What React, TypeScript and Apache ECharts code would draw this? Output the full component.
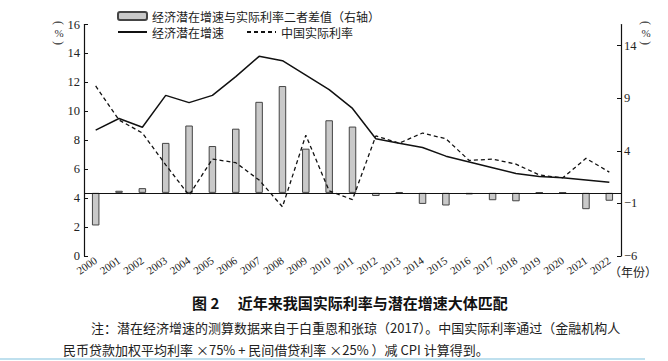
import React, { useEffect, useRef } from 'react';
import * as echarts from 'echarts';

const years = ['2000', '2001', '2002', '2003', '2004', '2005', '2006', '2007', '2008', '2009', '2010', '2011', '2012', '2013', '2014', '2015', '2016', '2017', '2018', '2019', '2020', '2021', '2022'];
const potentialGrowth = [8.7, 9.5, 8.9, 11.1, 10.6, 11.1, 12.4, 13.8, 13.5, 12.5, 11.5, 10.2, 8.1, 7.8, 7.5, 6.9, 6.5, 6.1, 5.7, 5.5, 5.4, 5.25, 5.1];
const realRate = [11.75, 9.4, 8.5, 6.3, 4.2, 6.7, 6.45, 5.25, 3.4, 8.35, 4.5, 3.9, 8.3, 7.8, 8.5, 8.1, 6.6, 6.7, 6.35, 5.6, 5.4, 6.75, 5.8];
const gapValues = [-3.1, 0.2, 0.45, 4.75, 6.4, 4.45, 6.1, 8.65, 10.15, 4.2, 6.9, 6.3, -0.3, 0.07, -1.05, -1.2, -0.15, -0.7, -0.8, 0.05, 0.05, -1.55, -0.75];
const leftTicks = [0, 2, 4, 6, 8, 10, 12, 14, 16];
const rightTicks = [-6, -1, 4, 9, 14];

const nameGap = '经济潜在增速与实际利率二者差值（右轴）';
const nameGrowth = '经济潜在增速';
const nameRate = '中国实际利率';

const serif = 'Liberation Serif';
const cjk = 'Noto Sans CJK SC';

function unitMark(cx: number) {
  return [
    { type: 'text', x: cx, y: 23, rotation: -Math.PI / 2, style: { text: '(', fontFamily: serif, fontSize: 12, fill: '#333', align: 'center', verticalAlign: 'middle' } },
    { type: 'text', x: cx, y: 33, style: { text: '%', fontFamily: serif, fontSize: 11, fill: '#333', align: 'center', verticalAlign: 'middle' } },
    { type: 'text', x: cx, y: 43, rotation: -Math.PI / 2, style: { text: ')', fontFamily: serif, fontSize: 12, fill: '#333', align: 'center', verticalAlign: 'middle' } },
  ];
}

export default function App() {
  const ref = useRef<HTMLDivElement>(null);
  useEffect(() => {
    document.body.style.margin = '0';
    const chart = echarts.init(ref.current!, null, { renderer: 'svg' });
    chart.setOption({
      animation: false,
      backgroundColor: '#ffffff',
      grid: { left: 84, right: 47, top: 24.5, bottom: 105, outerBoundsMode: 'none' },
      legend: [
        {
          data: [nameGap], left: 117, top: 10, padding: 0, itemWidth: 29, itemHeight: 8,
          textStyle: { fontFamily: cjk, fontSize: 12, color: '#222' },
        },
        {
          data: [nameGrowth, nameRate], left: 117, top: 26, padding: 0, itemWidth: 29, itemHeight: 8, itemGap: 22,
          textStyle: { fontFamily: cjk, fontSize: 12, color: '#222' },
        },
      ],
      xAxis: {
        type: 'category',
        data: years,
        boundaryGap: true,
        axisLine: { show: false },
        axisTick: { show: false },
        axisLabel: { rotate: 35, margin: 3, fontFamily: serif, fontSize: 11, color: '#222', interval: 0, hideOverlap: false },
      },
      yAxis: [
        {
          type: 'value', min: 0, max: 16, interval: 2, position: 'left',
          axisLine: { show: true, lineStyle: { color: '#111', width: 1.2 } },
          axisTick: { show: true, inside: true, length: 4, lineStyle: { color: '#111' }, customValues: leftTicks },
          axisLabel: { margin: 4, fontFamily: serif, fontSize: 12.5, color: '#222', customValues: leftTicks },
          splitLine: { show: false },
        },
        {
          type: 'value', min: -6, max: 16, interval: 5, position: 'right',
          axisLine: { show: true, lineStyle: { color: '#111', width: 1.2 } },
          axisTick: { show: true, inside: true, length: 4, lineStyle: { color: '#111' }, customValues: rightTicks },
          axisLabel: {
            margin: 3, fontFamily: serif, fontSize: 12.5, color: '#222', customValues: rightTicks,
            formatter: (v: number) => (v === 16 ? '' : String(v).replace('-', '−')),
          },
          splitLine: { show: false },
        },
      ],
      series: [
        {
          name: nameGap, type: 'bar', yAxisIndex: 1, data: gapValues, barWidth: 7.5,
          itemStyle: { color: '#c9c9c9', borderColor: '#444', borderWidth: 1 },
          markLine: {
            silent: true, symbol: ['none', 'none'], label: { show: false },
            lineStyle: { color: '#111', width: 1.2, type: 'solid' },
            data: [{ yAxis: 0 }],
          },
        },
        {
          name: nameGrowth, type: 'line', yAxisIndex: 0, data: potentialGrowth, symbol: 'none',
          lineStyle: { color: '#111', width: 1.5, type: 'solid' }, itemStyle: { color: 'rgba(0,0,0,0)' },
        },
        {
          name: nameRate, type: 'line', yAxisIndex: 0, data: realRate, symbol: 'none',
          lineStyle: { color: '#111', width: 1.3, type: [4, 3] }, itemStyle: { color: 'rgba(0,0,0,0)' },
        },
      ],
      graphic: [
        ...unitMark(59),
        ...unitMark(646),
        { type: 'text', left: 609, top: 265, style: { text: '（年份）', fontFamily: cjk, fontSize: 12, fill: '#222' } },
        { type: 'text', left: 192, top: 295, style: { text: '图 2　 近年来我国实际利率与潜在增速大体匹配', fontFamily: cjk, fontSize: 15, fontWeight: 'bold', fill: '#111' } },
        { type: 'text', left: 91, top: 321, style: { text: '注：潜在经济增速的测算数据来自于白重恩和张琼（2017）。中国实际利率通过（金融机构人', fontFamily: cjk, fontSize: 13, fill: '#222' } },
        { type: 'text', left: 63, top: 343, style: { text: '民币贷款加权平均利率 ×75% + 民间借贷利率 ×25% ）减 CPI 计算得到。', fontFamily: cjk, fontSize: 13, fill: '#222' } },
        { type: 'rect', shape: { x: 0, y: 358, width: 645, height: 2 }, style: { fill: '#bfe0ee' } },
      ],
    });
    return () => chart.dispose();
  }, []);
  return <div ref={ref} style={{ width: 668, height: 361 }} />;
}
